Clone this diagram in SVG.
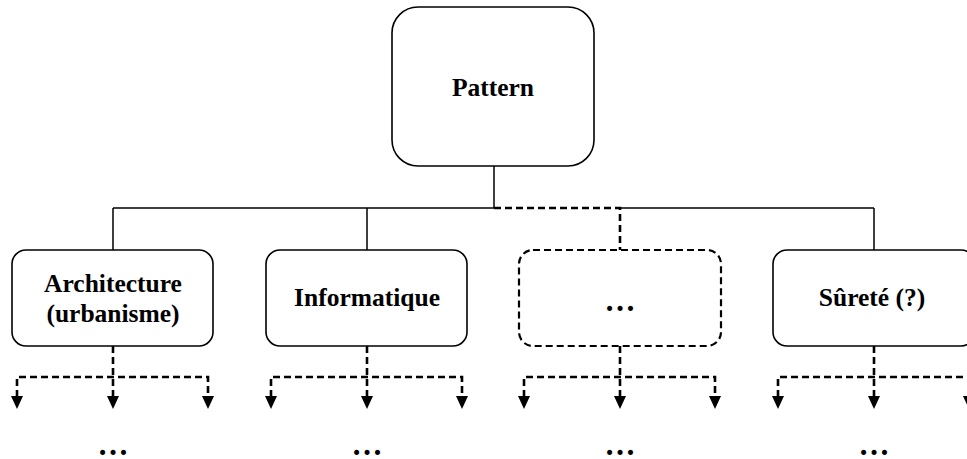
<svg xmlns="http://www.w3.org/2000/svg" width="967" height="459" viewBox="0 0 967 459">
<style>
.box{fill:#fff;stroke:#000;stroke-width:1.6}
.dbox{fill:#fff;stroke:#000;stroke-width:2.2;stroke-dasharray:7 4}
.t{font-family:"Liberation Serif","Times New Roman",serif;font-weight:bold;font-size:25.5px;fill:#000;text-anchor:middle}
.e{font-size:31px}
.s{stroke:#000;stroke-width:1.5;fill:none}
.d{stroke:#000;stroke-width:2.6;fill:none;stroke-dasharray:7 4}
.ah{fill:#000}
</style>
<defs>
<g id="fan">
<path class="d" d="M0,346 V397 M-96,397 V377 H95 V397"/>
<polygon class="ah" points="-102,396 -90,396 -96,409"/>
<polygon class="ah" points="-6,396 6,396 0,409"/>
<polygon class="ah" points="89,396 101,396 95,409"/>
<text class="t e" x="0" y="455">…</text>
</g>
</defs>
<g id="connectors">
<path class="s" d="M494,166 V208 M113,208 H494 M620,208 H874 M113,208 V250 M367,208 V250 M874,208 V250"/>
<path class="d" d="M494,208 H620 V250" stroke-width="2"/>
<use href="#fan" x="113"/>
<use href="#fan" x="367"/>
<use href="#fan" x="620"/>
<use href="#fan" x="874"/>
</g>
<g id="pattern">
<rect class="box" x="392" y="7" width="202" height="159" rx="26"/>
<text class="t" x="493" y="96">Pattern</text>
</g>
<g id="architecture">
<rect class="box" x="12" y="250" width="201" height="96" rx="14"/>
<text class="t" x="113" y="292">Architecture</text>
<text class="t" x="113" y="322">(urbanisme)</text>
</g>
<g id="informatique">
<rect class="box" x="266" y="250" width="201" height="96" rx="14"/>
<text class="t" x="367" y="306">Informatique</text>
</g>
<g id="etc">
<rect class="dbox" x="519" y="250" width="202" height="96" rx="14"/>
<text class="t e" x="620" y="311">…</text>
</g>
<g id="surete">
<rect class="box" x="773" y="250" width="202" height="96" rx="14"/>
<text class="t" x="872" y="306">Sûreté (?)</text>
</g>
</svg>
